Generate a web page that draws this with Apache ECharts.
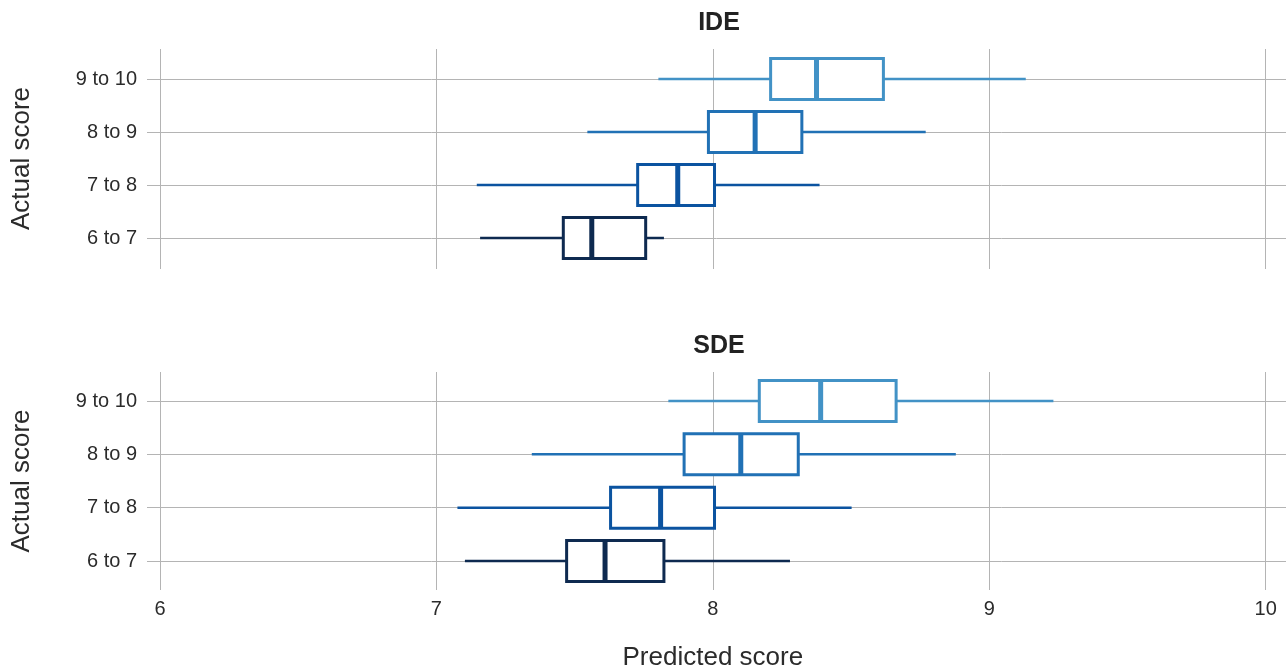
<!DOCTYPE html>
<html>
<head>
<meta charset="utf-8">
<script src="https://cdn.jsdelivr.net/npm/echarts@6/dist/echarts.min.js"></script>
<style>
  html, body { margin: 0; padding: 0; background: #fff; }
  #chart { width: 1286px; height: 672px; }
</style>
</head>
<body>
<div id="chart"></div>
<script>
var categories = ['6 to 7', '7 to 8', '8 to 9', '9 to 10'];
var xTicks = [6, 7, 8, 9, 10];

// IDE panel: whisker low, Q1, median, Q3, whisker high
var ideMin = [7.158, 7.146, 7.546, 7.803];
var ideQ1 = [7.459, 7.728, 7.984, 8.209];
var ideMed = [7.562, 7.873, 8.153, 8.375];
var ideQ3 = [7.757, 8.006, 8.322, 8.617];
var ideMax = [7.823, 8.386, 8.770, 9.132];

// SDE panel
var sdeMin = [7.103, 7.076, 7.345, 7.839];
var sdeQ1 = [7.471, 7.630, 7.896, 8.168];
var sdeMed = [7.610, 7.811, 8.101, 8.390];
var sdeQ3 = [7.823, 8.006, 8.309, 8.663];
var sdeMax = [8.279, 8.502, 8.879, 9.232];

var rowColors = ['#0e2a50', '#0b53a0', '#2171b5', '#4292c6'];

var font = '"Liberation Sans", Arial, sans-serif';
var textColor = '#2b2b2b';
var gridColor = '#b4b4b4';

// plot area where 6..10 sits, and the wider span of the row lines
var plotLeft = 160, plotRight = 1265.7, lineLeft = 147, lineRight = 1286;
var pxPerUnit = (plotRight - plotLeft) / 4;
var hMin = 6 - (plotLeft - lineLeft) / pxPerUnit;
var hMax = 10 + (lineRight - plotRight) / pxPerUnit;

function rows(mins, q1s, meds, q3s, maxs) {
  return categories.map(function (c, i) {
    return [i, mins[i], q1s[i], meds[i], q3s[i], maxs[i]];
  });
}

function renderBox(params, api) {
  var y = api.value(0);
  var lo = api.coord([api.value(1), y]);
  var q1 = api.coord([api.value(2), y]);
  var md = api.coord([api.value(3), y]);
  var q3 = api.coord([api.value(4), y]);
  var hi = api.coord([api.value(5), y]);
  var h = api.size([0, 1])[1] * 0.77;
  var color = rowColors[params.dataIndex];
  return {
    type: 'group',
    children: [
      { type: 'line', shape: { x1: lo[0], y1: lo[1], x2: q1[0], y2: q1[1] }, style: { stroke: color, lineWidth: 2.5 } },
      { type: 'line', shape: { x1: q3[0], y1: q3[1], x2: hi[0], y2: hi[1] }, style: { stroke: color, lineWidth: 2.5 } },
      { type: 'rect', shape: { x: q1[0], y: q1[1] - h / 2, width: q3[0] - q1[0], height: h }, style: { fill: '#fff', stroke: color, lineWidth: 3 } },
      { type: 'line', shape: { x1: md[0], y1: md[1] - h / 2, x2: md[0], y2: md[1] + h / 2 }, style: { stroke: color, lineWidth: 5 } }
    ]
  };
}

function vAxisX(gridIndex, showLabels) {
  return {
    type: 'value', gridIndex: gridIndex, min: 6, max: 10, interval: 1,
    axisLine: { show: false }, axisTick: { show: false },
    axisLabel: { show: showLabels, color: textColor, fontSize: 20, fontFamily: font, margin: 9 },
    splitLine: { show: true, lineStyle: { color: gridColor, width: 1 } },
    name: showLabels ? 'Predicted score' : '',
    nameLocation: 'middle', nameGap: 55,
    nameTextStyle: { color: textColor, fontSize: 26, fontFamily: font }
  };
}

function hAxisX(gridIndex) {
  return { type: 'value', gridIndex: gridIndex, min: hMin, max: hMax, show: false };
}

function hAxisY(gridIndex) {
  return {
    type: 'category', gridIndex: gridIndex, data: categories, boundaryGap: false,
    axisLine: { show: false }, axisTick: { show: false },
    axisLabel: { color: textColor, fontSize: 20, fontFamily: font, margin: 10 },
    splitLine: { show: true, lineStyle: { color: gridColor, width: 1 } },
    name: 'Actual score', nameLocation: 'middle', nameGap: 112, nameRotate: 90,
    nameTextStyle: { color: textColor, fontSize: 26, fontFamily: font }
  };
}

var option = {
  backgroundColor: '#fff',
  animation: false,
  title: [
    { text: 'IDE', left: 714, top: 6, textAlign: 'center', textStyle: { fontSize: 25, fontWeight: 'bold', color: '#222', fontFamily: font } },
    { text: 'SDE', left: 714, top: 329, textAlign: 'center', textStyle: { fontSize: 25, fontWeight: 'bold', color: '#222', fontFamily: font } }
  ],
  grid: [
    { left: plotLeft, right: 1286 - plotRight, top: 49, height: 220 },
    { left: lineLeft, right: 1286 - lineRight, top: 79, height: 159 },
    { left: plotLeft, right: 1286 - plotRight, top: 372, height: 219 },
    { left: lineLeft, right: 1286 - lineRight, top: 401, height: 160 }
  ],
  xAxis: [vAxisX(0, false), hAxisX(1), vAxisX(2, true), hAxisX(3)],
  yAxis: [
    { type: 'value', gridIndex: 0, show: false },
    hAxisY(1),
    { type: 'value', gridIndex: 2, show: false },
    hAxisY(3)
  ],
  series: [
    {
      name: 'IDE', type: 'custom', xAxisIndex: 1, yAxisIndex: 1,
      renderItem: renderBox,
      encode: { x: [1, 2, 3, 4, 5], y: 0 },
      data: rows(ideMin, ideQ1, ideMed, ideQ3, ideMax)
    },
    {
      name: 'SDE', type: 'custom', xAxisIndex: 3, yAxisIndex: 3,
      renderItem: renderBox,
      encode: { x: [1, 2, 3, 4, 5], y: 0 },
      data: rows(sdeMin, sdeQ1, sdeMed, sdeQ3, sdeMax)
    }
  ]
};

var chart = echarts.init(document.getElementById('chart'));
chart.setOption(option);
</script>
</body>
</html>
